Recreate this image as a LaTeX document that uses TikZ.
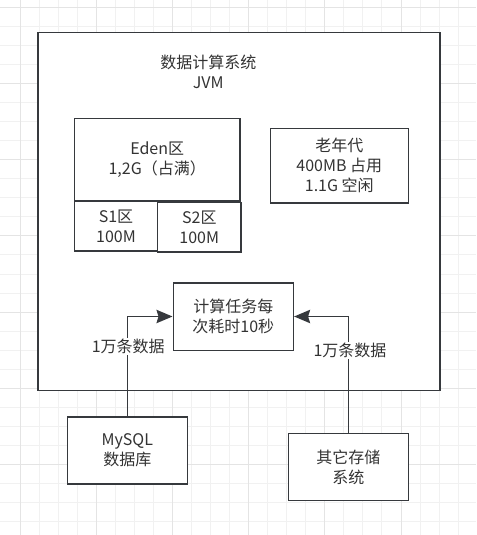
\documentclass[tikz,border=0pt]{standalone}
\usepackage{fontspec}
\setmainfont{Noto Sans CJK SC}
\usetikzlibrary{arrows.meta}
\definecolor{ln}{HTML}{36393D}
\definecolor{tx}{HTML}{333333}
\definecolor{gminor}{HTML}{F1F1F1}
\definecolor{gmajor}{HTML}{E4E4E4}
\tikzset{
  box/.style={draw=ln, line width=1.2pt, fill=white, rectangle, inner sep=0pt, anchor=center},
  txt/.style={text=tx, font=\fontsize{12pt}{15pt}\selectfont, align=center, inner sep=0pt},
  conn/.style={draw=ln, line width=1.2pt, -{Stealth[length=12pt,width=10pt,inset=1.5pt]}},
  lbl/.style={txt, fill=white, inner sep=1pt}
}
\begin{document}
\begin{tikzpicture}[x=0.75pt,y=-0.75pt]
\useasboundingbox (0,0) rectangle (476,535);
\fill[white] (0,0) rectangle (476,535);
% grid
\foreach \i in {0,...,24} {
  \pgfmathsetmacro{\gx}{20+\i*19.05}
  \draw[gminor, line width=0.75pt] (\gx,0) -- (\gx,535);
}
\foreach \i in {0,...,28} {
  \pgfmathsetmacro{\gy}{7.3+\i*19.05}
  \draw[gminor, line width=0.75pt] (0,\gy) -- (476,\gy);
}
\foreach \i in {0,4,...,24} {
  \pgfmathsetmacro{\gx}{20+\i*19.05}
  \draw[gmajor, line width=0.75pt] (\gx,0) -- (\gx,535);
}
\foreach \i in {0,4,...,28} {
  \pgfmathsetmacro{\gy}{7.3+\i*19.05}
  \draw[gmajor, line width=0.75pt] (0,\gy) -- (476,\gy);
}
% outer JVM box
\node[box, minimum width=301.5pt, minimum height=268.5pt] (jvm) at (238.7,211.5) {};
\node[txt] (jvmtitle) at (208.3,72) {数据计算系统\\JVM};
% Eden
\node[box, minimum width=124.2pt, minimum height=61.9pt, txt] (eden) at (157.2,159.6) {Eden区\\1,2G（占满）};
\node[box, minimum width=62.5pt, minimum height=37.5pt, txt] (s1) at (116,226) {S1区\\100M};
\node[box, minimum width=62.5pt, minimum height=37.2pt, txt] (s2) at (199.3,227.1) {S2区\\100M};
% old gen
\node[box, minimum width=103.5pt, minimum height=55.8pt, txt] (old) at (339.3,165.5) {老年代\\400MB 占用\\1.1G 空闲};
% compute task
\node[box, minimum width=90pt, minimum height=50.7pt, txt] (task) at (233.3,316.5) {计算任务每\\次耗时10秒};
% sources
\node[box, minimum width=90pt, minimum height=50.2pt, txt] (mysql) at (127.3,450.5) {MySQL\\数据库};
\node[box, minimum width=90pt, minimum height=50.5pt, txt] (other) at (348.3,467) {其它存储\\系统};
% connectors
\draw[conn] (mysql.north) |- (task.west);
\draw[conn] (other.north) |- (task.east);
\node[lbl] (l1) at (128.3,346.7) {1万条数据};
\node[lbl] (l2) at (350,350.5) {1万条数据};
\end{tikzpicture}
\end{document}
